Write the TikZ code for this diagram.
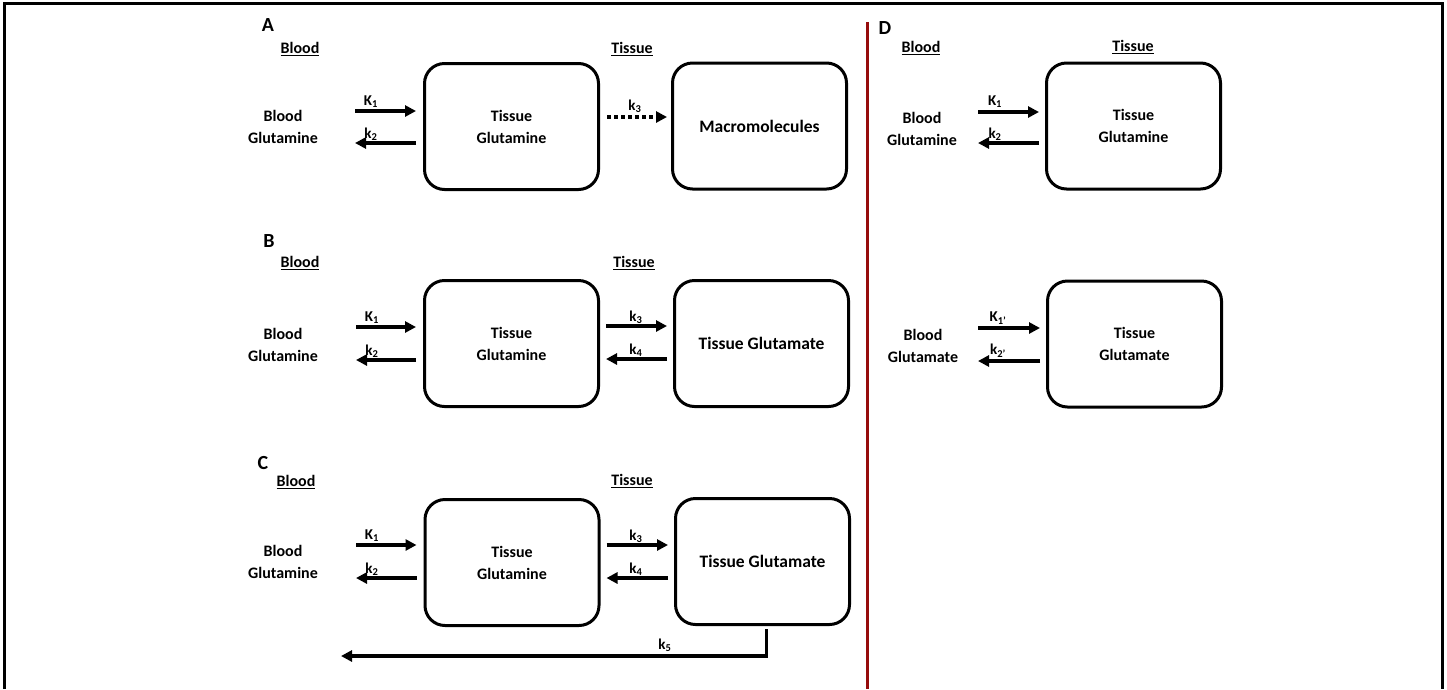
\documentclass[tikz,border=0pt]{standalone}
\usepackage{fontspec}
\setmainfont{Carlito}
\usetikzlibrary{arrows.meta,calc}
\definecolor{divred}{RGB}{150,12,12}
\begin{document}
\begin{tikzpicture}[x=1pt,y=-1pt,
  box/.style={draw,line width=3pt,rounded corners=20pt,minimum width=174pt,minimum height=126pt,inner sep=0pt},
  txt/.style={font=\fontsize{16}{22}\selectfont\bfseries,align=center,inner sep=0pt},
  wide/.style={font=\fontsize{17.5}{22}\selectfont\bfseries,align=center,inner sep=0pt},
  hdr/.style={font=\fontsize{16}{18}\selectfont\bfseries,inner sep=0pt},
  panel/.style={font=\fontsize{20}{22}\selectfont\bfseries,inner sep=0pt},
  klbl/.style={font=\fontsize{15}{16}\selectfont\bfseries,inner sep=0pt},
  arr/.style={line width=3.4pt,-{Triangle[length=11pt,width=11pt]}},
  darr/.style={line width=3.4pt,dash pattern=on 3.5pt off 3.5pt,-{Triangle[length=11pt,width=11pt]}},
  frame/.style={line width=3pt},
  divider/.style={line width=3pt,draw=divred}]
\useasboundingbox (0,0) rectangle (1447,689);
% frame and divider
\coordinate (fbl) at (4.5,689);
\coordinate (ftl) at (4.5,3);
\coordinate (ftr) at (1442.5,3);
\coordinate (fbr) at (1442.5,689);
\draw[frame] (fbl) -- (ftl) -- (ftr) -- (fbr);
\coordinate (dtop) at (867,22);
\coordinate (dbot) at (867,689);
\draw[divider] (dtop) -- (dbot);

% ---------- Panel A ----------
\node[panel] (pA) at (268,25) {A};
\node[hdr] (hA1) at (300,49) {\underline{Blood}};
\node[hdr] (hA2) at (632,49) {\underline{Tissue}};
\node[box] (A1) at (511.5,126.5) {};
\node[txt] at (A1.center) {Tissue\\Glutamine};
\node[box] (A2) at (759.5,126) {};
\node[wide] at (A2.center) {Macromolecules};
\node[txt] (bA) at (283,127) {Blood\\Glutamine};
\coordinate (a1s) at (355,111);
\coordinate (a2e) at (355,143);
\draw[arr,shorten >=7pt] (a1s) -- (A1.west |- a1s);
\draw[arr,shorten <=7pt] (A1.west |- a2e) -- (a2e);
\node[klbl] (kA1) at (371,102) {K\textsubscript{1}};
\node[klbl] (kA2) at (371,134) {k\textsubscript{2}};
\coordinate (a3) at (0,117);
\draw[darr,shorten <=7pt,shorten >=4pt] (A1.east |- a3) -- (A2.west |- a3);
\node[klbl] (kA3) at (635,106) {k\textsubscript{3}};

% ---------- Panel B ----------
\node[panel] (pB) at (269,241) {B};
\node[hdr] (hB1) at (300,263) {\underline{Blood}};
\node[hdr] (hB2) at (634,263) {\underline{Tissue}};
\node[box] (B1) at (511.5,343.5) {};
\node[txt] at (B1.center) {Tissue\\Glutamine};
\node[box] (B2) at (761.5,343.5) {};
\node[wide] at (B2.center) {Tissue Glutamate};
\node[txt] (bB) at (283,345) {Blood\\Glutamine};
\coordinate (b1s) at (356,327);
\coordinate (b2e) at (356,360);
\draw[arr,shorten >=7pt] (b1s) -- (B1.west |- b1s);
\draw[arr,shorten <=7pt] (B1.west |- b2e) -- (b2e);
\node[klbl] (kB1) at (372,318) {K\textsubscript{1}};
\node[klbl] (kB2) at (372,351) {k\textsubscript{2}};
\coordinate (b3) at (0,326);
\coordinate (b4) at (0,359);
\draw[arr,shorten <=6pt,shorten >=6pt] (B1.east |- b3) -- (B2.west |- b3);
\draw[arr,shorten <=6pt,shorten >=6pt] (B2.west |- b4) -- (B1.east |- b4);
\node[klbl] (kB3) at (636,317) {k\textsubscript{3}};
\node[klbl] (kB4) at (636,350) {k\textsubscript{4}};

% ---------- Panel C ----------
\node[panel] (pC) at (263,463) {C};
\node[hdr] (hC1) at (296,482) {\underline{Blood}};
\node[hdr] (hC2) at (632,481) {\underline{Tissue}};
\node[box] (C1) at (512,562.5) {};
\node[txt] at (C1.center) {Tissue\\Glutamine};
\node[box] (C2) at (762.5,561.5) {};
\node[wide] at (C2.center) {Tissue Glutamate};
\node[txt] (bC) at (283,562) {Blood\\Glutamine};
\coordinate (c1s) at (356,545);
\coordinate (c2e) at (356,578);
\draw[arr,shorten >=7pt] (c1s) -- (C1.west |- c1s);
\draw[arr,shorten <=7pt] (C1.west |- c2e) -- (c2e);
\node[klbl] (kC1) at (372,536) {K\textsubscript{1}};
\node[klbl] (kC2) at (372,569) {k\textsubscript{2}};
\coordinate (c3) at (0,545);
\coordinate (c4) at (0,578);
\draw[arr,shorten <=6pt,shorten >=6pt] (C1.east |- c3) -- (C2.west |- c3);
\draw[arr,shorten <=6pt,shorten >=6pt] (C2.west |- c4) -- (C1.east |- c4);
\node[klbl] (kC3) at (636,536) {k\textsubscript{3}};
\node[klbl] (kC4) at (636,569) {k\textsubscript{4}};
\coordinate (c5e) at (341,656);
\draw[arr,shorten <=3pt] ([xshift=4pt]C2.south) |- (c5e);
\node[klbl] (kC5) at (665,645) {k\textsubscript{5}};

% ---------- Panel D ----------
\node[panel] (pD) at (885,28) {D};
\node[hdr] (hD1) at (921,48) {\underline{Blood}};
\node[hdr] (hD2) at (1133,47) {\underline{Tissue}};
\node[box] (D1) at (1133.5,126) {};
\node[txt] at (D1.center) {Tissue\\Glutamine};
\node[txt] (bD1) at (922,129) {Blood\\Glutamine};
\coordinate (d1s) at (978,112);
\coordinate (d2e) at (978,143);
\draw[arr,shorten >=6pt] (d1s) -- (D1.west |- d1s);
\draw[arr,shorten <=6pt] (D1.west |- d2e) -- (d2e);
\node[klbl] (kD1) at (995,102) {K\textsubscript{1}};
\node[klbl] (kD2) at (995,134) {k\textsubscript{2}};

\node[box] (D2) at (1134.5,344) {};
\node[txt] at (D2.center) {Tissue\\Glutamate};
\node[txt] (bD2) at (923,346) {Blood\\Glutamate};
\coordinate (d3s) at (978,328);
\coordinate (d4e) at (978,361);
\draw[arr,shorten >=6pt] (d3s) -- (D2.west |- d3s);
\draw[arr,shorten <=6pt] (D2.west |- d4e) -- (d4e);
\node[klbl] (kD3) at (998,318) {K\textsubscript{1'}};
\node[klbl] (kD4) at (998,351) {k\textsubscript{2'}};
\end{tikzpicture}
\end{document}
